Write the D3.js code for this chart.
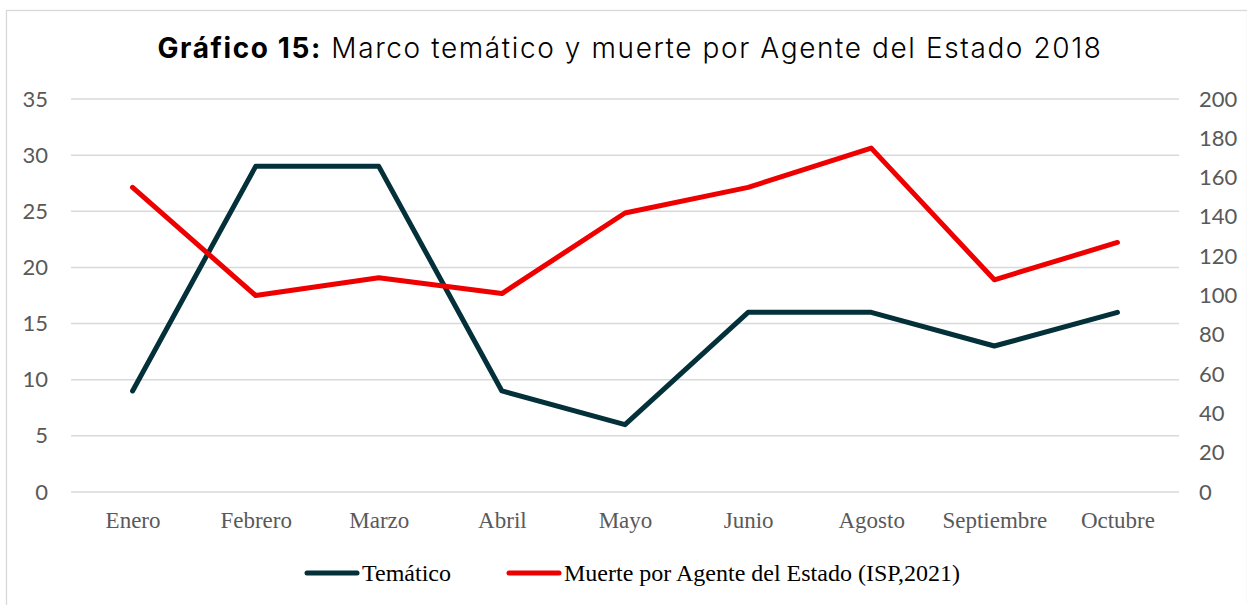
<!DOCTYPE html>
<html>
<head>
<meta charset="utf-8">
<script src="https://cdn.jsdelivr.net/npm/d3@7"></script>
<style>
  body { margin: 0; background: #fff; }
</style>
</head>
<body>
<div id="chart"></div>
<script>
(function () {
    // data
    var months = ["Enero", "Febrero", "Marzo", "Abril", "Mayo", "Junio", "Agosto", "Septiembre", "Octubre"];
    var tematico = [9, 29, 29, 9, 6, 16, 16, 13, 16];
    var muerte = [155, 100, 109, 101, 142, 155, 175, 108, 127];
    var leftTicks = [0, 5, 10, 15, 20, 25, 30, 35];
    var rightTicks = [0, 20, 40, 60, 80, 100, 120, 140, 160, 180, 200];

    var W = 1247, H = 605;
    var margin = { top: 99, right: 68, bottom: 113, left: 71 },
        width = W - margin.left - margin.right,
        height = H - margin.top - margin.bottom;

    var root = d3.select("#chart")
        .append("svg")
        .attr("width", W)
        .attr("height", H);

    // outer border
    root.append("rect")
        .attr("x", 6.5).attr("y", 10.5)
        .attr("width", W - 6).attr("height", H)
        .attr("fill", "none")
        .attr("stroke", "#d9d9d9")
        .attr("stroke-width", 1.3);

    // title
    var title = root.append("text")
        .attr("x", 630)
        .attr("y", 58)
        .attr("text-anchor", "middle")
        .style("font-family", "Inter, 'Open Sans', sans-serif")
        .style("font-size", "28px")
        .style("letter-spacing", "1.6px")
        .attr("fill", "#000");
    title.append("tspan").style("font-weight", "700").text("Gráfico 15:");
    title.append("tspan").style("font-weight", "300").text(" Marco temático y muerte por Agente del Estado 2018");

    var svg = root.append("g")
        .attr("transform", "translate(" + margin.left + "," + margin.top + ")");

    var x = d3.scalePoint()
        .domain(months)
        .range([0, width])
        .padding(0.5);

    var yL = d3.scaleLinear().domain([0, 35]).range([height, 0]);
    var yR = d3.scaleLinear().domain([0, 200]).range([height, 0]);

    // gridlines
    svg.append("g")
        .selectAll("line")
        .data(leftTicks)
        .enter()
        .append("line")
        .attr("x1", 0).attr("x2", width)
        .attr("y1", function (d) { return yL(d); })
        .attr("y2", function (d) { return yL(d); })
        .attr("stroke", "#d9d9d9")
        .attr("stroke-width", 1.5);

    // left axis
    var axL = svg.append("g")
        .call(d3.axisLeft(yL).tickValues(leftTicks).tickSize(0).tickPadding(23));
    axL.select(".domain").remove();
    axL.selectAll("text")
        .style("font-family", "Lato, 'Open Sans', sans-serif")
        .style("font-size", "22px")
        .attr("fill", "#595959");

    // right axis
    var axR = svg.append("g")
        .attr("transform", "translate(" + width + ",0)")
        .call(d3.axisRight(yR).tickValues(rightTicks).tickSize(0).tickPadding(20));
    axR.select(".domain").remove();
    axR.selectAll("text")
        .style("font-family", "Lato, 'Open Sans', sans-serif")
        .style("font-size", "22px")
        .attr("fill", "#595959");

    // x axis
    var axX = svg.append("g")
        .attr("transform", "translate(0," + height + ")")
        .call(d3.axisBottom(x).tickSize(0).tickPadding(20));
    axX.select(".domain").remove();
    axX.selectAll("text")
        .style("font-family", "'Liberation Serif', 'Times New Roman', serif")
        .style("font-size", "23px")
        .attr("fill", "#595959");

    // lines
    var lineL = d3.line()
        .x(function (d, i) { return x(months[i]); })
        .y(function (d) { return yL(d); });
    var lineR = d3.line()
        .x(function (d, i) { return x(months[i]); })
        .y(function (d) { return yR(d); });

    svg.append("path")
        .datum(tematico)
        .attr("fill", "none")
        .attr("stroke", "#033039")
        .attr("stroke-width", 5)
        .attr("stroke-linejoin", "round")
        .attr("stroke-linecap", "round")
        .attr("d", lineL);

    svg.append("path")
        .datum(muerte)
        .attr("fill", "none")
        .attr("stroke", "#ee0000")
        .attr("stroke-width", 5)
        .attr("stroke-linejoin", "round")
        .attr("stroke-linecap", "round")
        .attr("d", lineR);

    // legend
    var legend = [
        { name: "Temático", color: "#033039", x: 307 },
        { name: "Muerte por Agente del Estado (ISP,2021)", color: "#ee0000", x: 509 }
    ];
    var lg = root.append("g").selectAll("g")
        .data(legend)
        .enter()
        .append("g")
        .attr("transform", function (d) { return "translate(" + d.x + ",573)"; });
    lg.append("line")
        .attr("x1", 0).attr("x2", 50)
        .attr("stroke", function (d) { return d.color; })
        .attr("stroke-width", 5)
        .attr("stroke-linecap", "round");
    lg.append("text")
        .attr("x", 55)
        .attr("dy", "0.35em")
        .style("font-family", "'Liberation Serif', 'Times New Roman', serif")
        .style("font-size", "24px")
        .attr("fill", "#000")
        .text(function (d) { return d.name; });
})();
</script>
</body>
</html>
